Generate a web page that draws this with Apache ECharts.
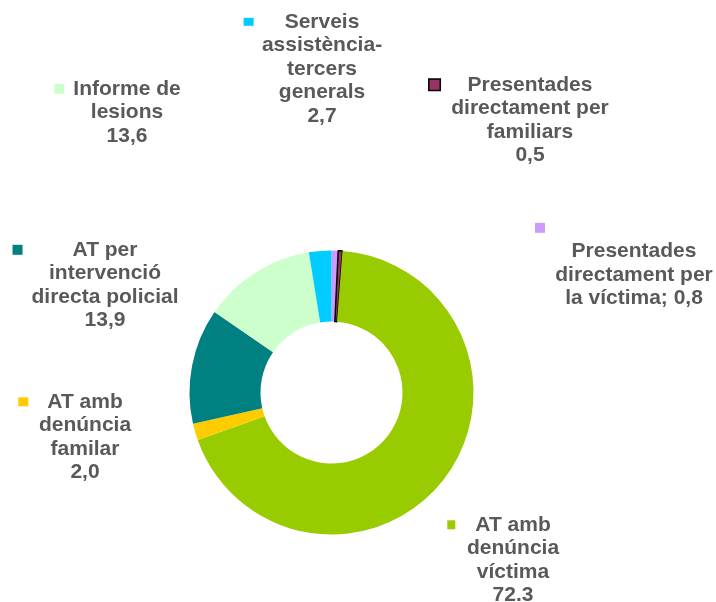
<!DOCTYPE html>
<html><head><meta charset="utf-8">
<script src="https://cdn.jsdelivr.net/npm/echarts@6/dist/echarts.min.js"></script>
<style>html,body{margin:0;padding:0;background:#fff}#c{width:716px;height:602px}</style>
</head><body><div id="c"></div>
<script>
// Data (clockwise from 12 o'clock)
const categories = [
  'Presentades\ndirectament per\nla víctima',
  'Presentades\ndirectament per\nfamiliars',
  'AT amb\ndenúncia\nvíctima',
  'AT amb\ndenúncia\nfamilar',
  'AT per\nintervenció\ndirecta policial',
  'Informe de\nlesions',
  'Serveis\nassistència-\ntercers\ngenerals'
];
const values = [0.8, 0.5, 72.3, 2.0, 13.9, 13.6, 2.7];
const valueLabels = ['0,8', '0,5', '72.3', '2,0', '13,9', '13,6', '2,7'];
const colors = ['#CC99FF', '#993366', '#99CC00', '#FFCC00', '#008080', '#CCFFCC', '#00CCFF'];

// Label layout (styles/positions, separate from data)
const LH = 23.6;
const labelPos = [
  {x: 634, y: 216, gap: 188, sw: 10, sh: 10, own: true, joinValue: true},
  {x: 530, y: 73, gap: 28, sw: 10, sh: 10, own: false, border: true},
  {x: 513, y: 513, gap: 20, sw: 8, sh: 9, own: false},
  {x: 85, y: 390, gap: 19, sw: 10, sh: 9, own: false},
  {x: 105, y: 238, gap: 50, sw: 10, sh: 10, own: false},
  {x: 127, y: 77, gap: 9, sw: 10, sh: 10, own: false},
  {x: 322, y: 10, gap: 31, sw: 10, sh: 8, own: false}
];

const FONT = '"Liberation Sans", Arial, sans-serif';
const textStyle = {fontSize: 21, fontWeight: 'bold', color: '#595959', lineHeight: LH, fontFamily: FONT};
const rich = {t: textStyle};
labelPos.forEach((p, i) => {
  rich['sq' + i] = {width: p.sw, height: p.sh, backgroundColor: colors[i], lineHeight: LH,
    borderColor: p.border ? '#000' : undefined, borderWidth: p.border ? 1.5 : 0};
  rich['gp' + i] = {width: p.gap, height: 2, lineHeight: LH};
  rich['sp' + i] = {width: p.own ? p.gap : p.sw + p.gap, height: 2, lineHeight: LH};
});

function fmt(params) {
  const i = params.dataIndex;
  const p = labelPos[i];
  let lines = categories[i].split('\n');
  if (p.joinValue) lines[lines.length - 1] += '; ' + valueLabels[i];
  else lines.push(valueLabels[i]);
  const out = [];
  if (p.own) {
    out.push('{sq' + i + '|}{sp' + i + '|}');
    lines.forEach(l => out.push('{t|' + l + '}'));
  } else {
    out.push('{sq' + i + '|}{gp' + i + '|}{t|' + lines[0] + '}{sp' + i + '|}');
    lines.slice(1).forEach(l => out.push('{t|' + l + '}'));
  }
  return out.join('\n');
}

const chart = echarts.init(document.getElementById('c'), null, {renderer: 'canvas'});
chart.setOption({
  animation: false,
  backgroundColor: '#fff',
  series: [{
    type: 'pie',
    center: [331.5, 392.5],
    radius: [71, 142],
    startAngle: 90,
    clockwise: true,
    avoidLabelOverlap: false,
    data: categories.map((c, i) => ({
      name: c, value: values[i],
      itemStyle: i === 1 ? {color: colors[i], borderColor: '#000', borderWidth: 1.5} : {color: colors[i]}
    })),
    label: {show: true, position: 'outside', formatter: fmt, rich: rich, ...textStyle},
    labelLine: {show: false},
    labelLayout: function (params) {
      const p = labelPos[params.dataIndex];
      return {x: p.x, y: p.y, align: 'center', verticalAlign: 'top'};
    },
    emphasis: {disabled: true}
  }]
});
</script></body></html>
